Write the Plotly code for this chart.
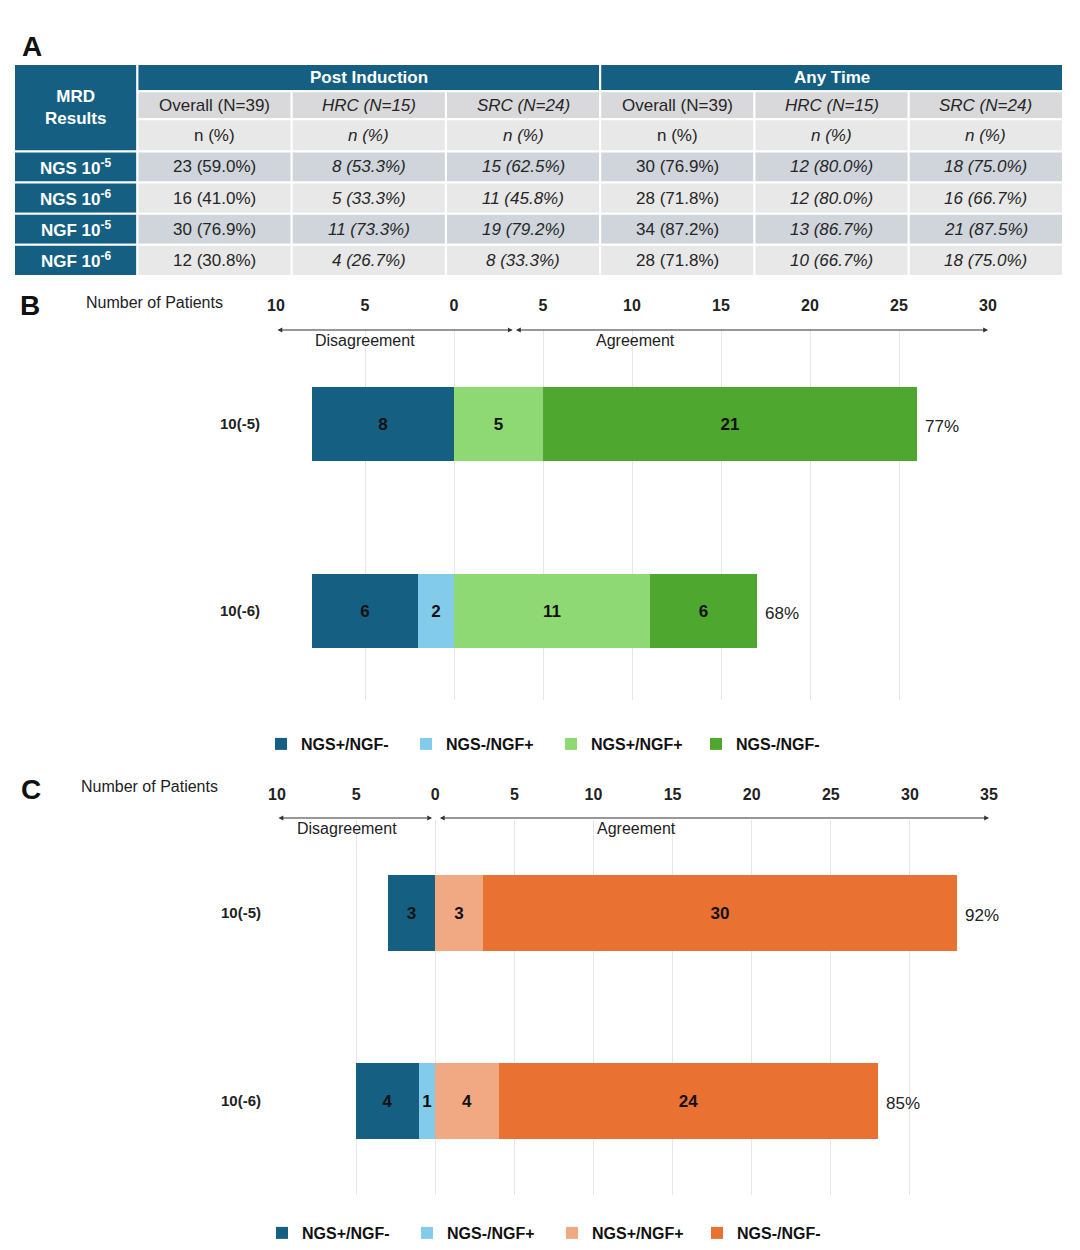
import plotly.graph_objects as go

W, H = 1080, 1250


def fx(p):
    return p / W


def fy(p):
    return 1 - p / H


# ---------------- DATA ----------------
categories = ["10(-5)", "10(-6)"]
legend_names = ["NGS+/NGF-", "NGS-/NGF+", "NGS+/NGF+", "NGS-/NGF-"]

# Panel B (post induction)
b_ngs_pos_ngf_neg = [8, 6]
b_ngs_neg_ngf_pos = [0, 2]
b_both_pos = [5, 11]
b_both_neg = [21, 6]
b_pct = ["77%", "68%"]
b_ticks = [-10, -5, 0, 5, 10, 15, 20, 25, 30]
b_disagree_span = [-10, 3.3]
b_agree_span = [3.4, 30]

# Panel C (any time)
c_ngs_pos_ngf_neg = [3, 4]
c_ngs_neg_ngf_pos = [0, 1]
c_both_pos = [3, 4]
c_both_neg = [30, 24]
c_pct = ["92%", "85%"]
c_ticks = [-10, -5, 0, 5, 10, 15, 20, 25, 30, 35]
c_disagree_span = [-10, -0.2]
c_agree_span = [0.2, 35]

# Panel A table
group_headers = ["Post Induction", "Any Time"]
sub_headers = ["Overall (N=39)", "<i>HRC (N=15)</i>", "<i>SRC (N=24)</i>",
               "Overall (N=39)", "<i>HRC (N=15)</i>", "<i>SRC (N=24)</i>"]
unit_headers = ["n (%)", "<i>n (%)</i>", "<i>n (%)</i>",
                "n (%)", "<i>n (%)</i>", "<i>n (%)</i>"]
row_labels = ["NGS 10<sup>-5</sup>", "NGS 10<sup>-6</sup>",
              "NGF 10<sup>-5</sup>", "NGF 10<sup>-6</sup>"]
post_overall = ["23 (59.0%)", "16 (41.0%)", "30 (76.9%)", "12 (30.8%)"]
post_hrc = ["8 (53.3%)", "5 (33.3%)", "11 (73.3%)", "4 (26.7%)"]
post_src = ["15 (62.5%)", "11 (45.8%)", "19 (79.2%)", "8 (33.3%)"]
any_overall = ["30 (76.9%)", "28 (71.8%)", "34 (87.2%)", "28 (71.8%)"]
any_hrc = ["12 (80.0%)", "12 (80.0%)", "13 (86.7%)", "10 (66.7%)"]
any_src = ["18 (75.0%)", "16 (66.7%)", "21 (87.5%)", "18 (75.0%)"]
italic_cols = [False, True, True, False, True, True]

# ---------------- STYLE ----------------
DARK = "#156082"
LBLUE = "#83CBEB"
LGREEN = "#8ED973"
GREEN = "#4EA72E"
LORANGE = "#F1A983"
ORANGE = "#E97132"
FONT = "Liberation Sans, Arial, sans-serif"
TXT = "#222222"

fig = go.Figure()


def add_bars(xa, ya, legend, neg_far, neg_near, pos_near, pos_far, pct, near_col, far_col):
    # near-zero negatives first so they stack adjacent to zero
    series = [
        (legend_names[1], neg_near, LBLUE, -1, 2),
        (legend_names[0], neg_far, DARK, -1, 1),
        (legend_names[2], pos_near, near_col, 1, 3),
        (legend_names[3], pos_far, far_col, 1, 4),
    ]
    for name, vals, col, sign, rank in series:
        fig.add_trace(go.Bar(
            y=categories, x=[sign * v for v in vals], orientation="h",
            name=name, width=0.4,
            marker=dict(color=col, line=dict(width=0)),
            text=[str(v) if v else "" for v in vals],
            textposition="inside", insidetextanchor="middle", textangle=0,
            textfont=dict(family=FONT, size=17, color="#111111", weight="bold"),
            xaxis=xa, yaxis=ya, legend=legend, legendrank=rank,
            hoverinfo="skip",
        ))
    totals = [a + b for a, b in zip(pos_near, pos_far)]
    for tot, cat, p in zip(totals, categories, pct):
        fig.add_annotation(x=tot, y=cat, xref=xa, yref=ya, text=p,
                           xanchor="left", yanchor="middle", xshift=6, yshift=-2,
                           showarrow=False,
                           font=dict(family=FONT, size=17, color=TXT))


add_bars("x", "y", "legend", b_ngs_pos_ngf_neg, b_ngs_neg_ngf_pos, b_both_pos, b_both_neg, b_pct, LGREEN, GREEN)
add_bars("x2", "y2", "legend2", c_ngs_pos_ngf_neg, c_ngs_neg_ngf_pos, c_both_pos, c_both_neg, c_pct, LORANGE, ORANGE)


def xaxis_cfg(dom, rng, ticks, anchor, standoff):
    return dict(
        domain=dom, range=rng, side="top", anchor=anchor, tickmode="array", tickvals=ticks,
        ticktext=[str(abs(t)) for t in ticks], ticks="", ticklabelstandoff=standoff,
        tickfont=dict(family=FONT, size=16, color=TXT, weight="bold"),
        showgrid=True, gridcolor="#e6e6e6", gridwidth=1, zeroline=False,
        showline=False, fixedrange=True, automargin=False,
    )


def yaxis_cfg(dom, rng, anchor):
    return dict(
        domain=dom, range=rng, type="category", anchor=anchor,
        ticks="", ticklabelstandoff=15, showgrid=False, zeroline=False,
        tickfont=dict(family=FONT, size=15, color=TXT, weight="bold"),
        showline=False, fixedrange=True, automargin=False,
    )


legend_common = dict(orientation="h", xanchor="left", yanchor="middle",
                     font=dict(family=FONT, size=16, color="#111111", weight="bold"),
                     entrywidth=100, entrywidthmode="pixels", traceorder="normal",
                     itemwidth=30, bgcolor="rgba(0,0,0,0)")

fig.update_layout(
    width=W, height=H, margin=dict(l=0, r=0, t=0, b=0, autoexpand=False),
    plot_bgcolor="white", paper_bgcolor="white",
    barmode="relative", bargap=0,
    uniformtext=dict(minsize=16, mode="show"),
    xaxis=xaxis_cfg([fx(276), fx(988)], [-10, 30], b_ticks, "y", 15),
    yaxis=yaxis_cfg([fy(700), fy(330)], [1.476, -0.503], "x"),
    xaxis2=xaxis_cfg([fx(277), fx(989)], [-10, 35], c_ticks, "y2", 16),
    yaxis2=yaxis_cfg([fy(1195), fy(820)], [1.5, -0.495], "x2"),
    xaxis3=dict(domain=[fx(14), fx(1063)], range=[0, 6.8], visible=False, anchor="y3", fixedrange=True),
    yaxis3=dict(domain=[fy(276), fy(64)], range=[211, 0], visible=False, anchor="x3", fixedrange=True),
    legend=dict(legend_common, x=fx(261), y=fy(744)),
    legend2=dict(legend_common, x=fx(262), y=fy(1233)),
    showlegend=True,
)

# ---------------- arrows & labels for B and C ----------------
def add_arrows(xref, ydom, spans, ylab, labels, label_x):
    for span in spans:
        fig.add_annotation(
            x=span[1], y=ylab, xref=xref, yref=ydom,
            ax=span[0], ay=ylab, axref=xref, ayref=ydom,
            showarrow=True, arrowhead=2, arrowsize=0.8, arrowwidth=1.2,
            arrowside="end+start", arrowcolor="#333333", text="",
        )
    for lab, lx in zip(labels, label_x):
        fig.add_annotation(x=lx, y=ylab, xref=xref, yref=ydom, text=lab,
                           showarrow=False, yanchor="top", yshift=0,
                           font=dict(family=FONT, size=16, color=TXT))


add_arrows("x", "y domain", [b_disagree_span, b_agree_span], 1.0,
           ["Disagreement", "Agreement"], [-5, 10.2])
add_arrows("x2", "y2 domain", [c_disagree_span, c_agree_span], 1.0053,
           ["Disagreement", "Agreement"], [-5.6, 12.7])

for txt, x, y in [("Number of Patients", 84, 303), ("Number of Patients", 79, 786)]:
    fig.add_annotation(x=fx(x), y=fy(y), xref="paper", yref="paper", text=txt,
                       xanchor="left", yanchor="middle", showarrow=False,
                       font=dict(family=FONT, size=16, color=TXT))

for txt, x, y in [("A", 32, 47), ("B", 30, 305), ("C", 31, 789)]:
    fig.add_annotation(x=fx(x), y=fy(y), xref="paper", yref="paper", text=txt,
                       xanchor="center", yanchor="middle", showarrow=False,
                       font=dict(family=FONT, size=28, color="#111111", weight="bold"))

# ---------------- table (panel A) ----------------
col_edges = [0, 0.8, 1.8, 2.8, 3.8, 4.8, 5.8, 6.8]
row_edges = [0, 27, 55, 87, 118, 149, 180, 211]
data_cols = [post_overall, post_hrc, post_src, any_overall, any_hrc, any_src]
data_fills = ["#CFD5DB", "#E8E8E8", "#CFD5DB", "#E8E8E8"]


def cell(x0, x1, y0, y1, fill, text, color, bold=False, size=17):
    fig.add_shape(type="rect", xref="x3", yref="y3", x0=x0, x1=x1, y0=y0, y1=y1,
                  fillcolor=fill, line=dict(color="white", width=2), layer="below")
    fig.add_annotation(x=(x0 + x1) / 2, y=(y0 + y1) / 2, xref="x3", yref="y3",
                       text=text, showarrow=False, xanchor="center", yanchor="middle",
                       font=dict(family=FONT, size=size, color=color,
                                 weight="bold" if bold else "normal"))


cell(col_edges[0], col_edges[1], row_edges[0], row_edges[3], DARK, "MRD<br>Results", "white", True, 17)
for g, name in enumerate(group_headers):
    cell(col_edges[1 + 3 * g], col_edges[4 + 3 * g], row_edges[0], row_edges[1], DARK, name, "white", True, 17)
for j in range(6):
    cell(col_edges[1 + j], col_edges[2 + j], row_edges[1], row_edges[2], "#D9D9DB", sub_headers[j], "#262626")
    cell(col_edges[1 + j], col_edges[2 + j], row_edges[2], row_edges[3], "#E8E8E8", unit_headers[j], "#262626")
for i, lab in enumerate(row_labels):
    cell(col_edges[0], col_edges[1], row_edges[3 + i], row_edges[4 + i], DARK, lab, "white", True, 17)
    for j, col in enumerate(data_cols):
        t = col[i]
        if italic_cols[j]:
            t = "<i>" + t + "</i>"
        cell(col_edges[1 + j], col_edges[2 + j], row_edges[3 + i], row_edges[4 + i], data_fills[i], t, "#262626")

fig.write_html(
    "out.html",
    config={"displayModeBar": False, "responsive": False},
    post_script=("document.body.style.margin='0px';"
                 "document.body.style.overflow='hidden';"
                 "document.documentElement.style.overflow='hidden';"),
)
